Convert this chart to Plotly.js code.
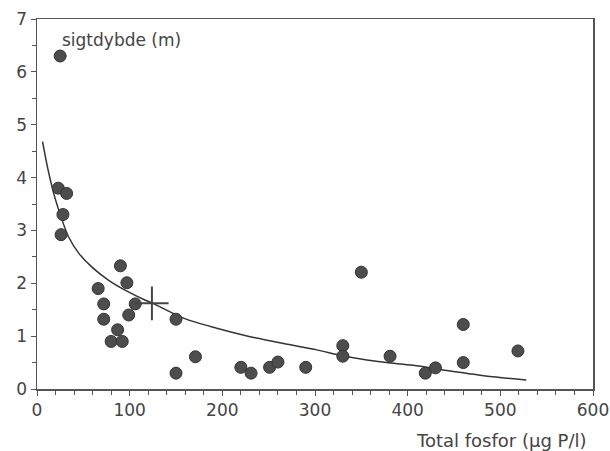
<!DOCTYPE html>
<html>
<head>
<meta charset="utf-8">
<script src="https://cdn.plot.ly/plotly-3.0.1.min.js"></script>
<style>html,body{margin:0;padding:0;background:#fff;}#chart{width:610px;height:451px;}</style>
</head>
<body>
<div id="chart"></div>
<script>
// Observed lakes: total phosphorus (µg P/l) and Secchi depth (m)
var fosfor = [25, 23, 32, 28, 26, 66, 72, 72, 90, 97, 106, 99, 87, 80, 92, 150, 150, 171,
              220, 231, 251, 260, 290, 330, 330, 350, 381, 419, 430, 460, 460, 519];
var sigtdybde = [6.3, 3.8, 3.7, 3.3, 2.92, 1.9, 1.61, 1.32, 2.33, 2.01, 1.61, 1.4, 1.12, 0.9, 0.9, 1.32, 0.3, 0.61,
                 0.41, 0.3, 0.41, 0.51, 0.41, 0.82, 0.62, 2.21, 0.62, 0.3, 0.4, 1.22, 0.5, 0.72];

// Fitted curve
var curveX = [6, 12, 19, 27, 34, 45, 59, 77, 95, 117, 124, 158, 194, 230, 266, 302, 327, 356, 377, 406, 442, 463, 492, 528];
var curveY = [4.68, 4.14, 3.64, 3.2, 2.88, 2.57, 2.31, 2.06, 1.87, 1.68, 1.63, 1.34, 1.15, 0.99, 0.86, 0.74, 0.64, 0.55, 0.5, 0.45, 0.35, 0.3, 0.23, 0.17];

// Mean point with spread (cross)
var meanX = [124];
var meanY = [1.62];
var meanErrX = [18];
var meanErrY = [0.32];

var xTicks = [0, 100, 200, 300, 400, 500, 600];
var yTicks = [0, 1, 2, 3, 4, 5, 6, 7];

var fontFam = '"DejaVu Sans", "Noto Sans", sans-serif';
var txtCol = '#444';

var traces = [
  {x: curveX, y: curveY, mode: 'lines', type: 'scatter', line: {color: '#333', width: 1.5, shape: 'spline', smoothing: 0.8}, hoverinfo: 'skip'},
  {x: fosfor, y: sigtdybde, mode: 'markers', type: 'scatter',
   marker: {size: 12, color: '#4d4d4d', line: {color: '#333', width: 1}}},
  {x: meanX, y: meanY, mode: 'markers', type: 'scatter', marker: {size: 1, color: '#333', opacity: 0},
   error_x: {type: 'data', array: meanErrX, color: '#444', thickness: 2, width: 0},
   error_y: {type: 'data', array: meanErrY, color: '#444', thickness: 2, width: 0}}
];

var axisCommon = {
  showgrid: false, zeroline: false, showline: true, mirror: true,
  linecolor: '#555', linewidth: 1.5,
  ticks: 'outside', ticklen: 5, tickwidth: 1, tickcolor: '#555',
  tickfont: {family: fontFam, size: 17, color: txtCol},
  fixedrange: true
};

var layout = {
  width: 610, height: 451,
  margin: {l: 37, r: 17, t: 19, b: 62},
  paper_bgcolor: '#fff', plot_bgcolor: '#fff',
  showlegend: false,
  xaxis: Object.assign({}, axisCommon, {
    range: [0, 600], tickvals: xTicks, ticktext: xTicks.map(String),
    minor: {dtick: 20, ticks: 'outside', ticklen: 4, tickcolor: '#555', tickwidth: 1}
  }),
  yaxis: Object.assign({}, axisCommon, {
    range: [0, 7], tickvals: yTicks, ticktext: yTicks.map(String),
    minor: {dtick: 0.5, ticks: 'outside', ticklen: 4, tickcolor: '#555', tickwidth: 1}
  }),
  annotations: [
    {text: 'sigtdybde (m)', xref: 'paper', yref: 'paper', x: 0.041, y: 0.943, xanchor: 'left', yanchor: 'middle',
     showarrow: false, font: {family: fontFam, size: 17, color: txtCol}},
    {text: 'Total fosfor (µg P/l)', xref: 'paper', yref: 'paper', x: 0.993, y: -0.138, xanchor: 'right', yanchor: 'middle',
     showarrow: false, font: {family: fontFam, size: 18, color: txtCol}}
  ]
};

Plotly.newPlot('chart', traces, layout, {staticPlot: true});
</script>
</body>
</html>
